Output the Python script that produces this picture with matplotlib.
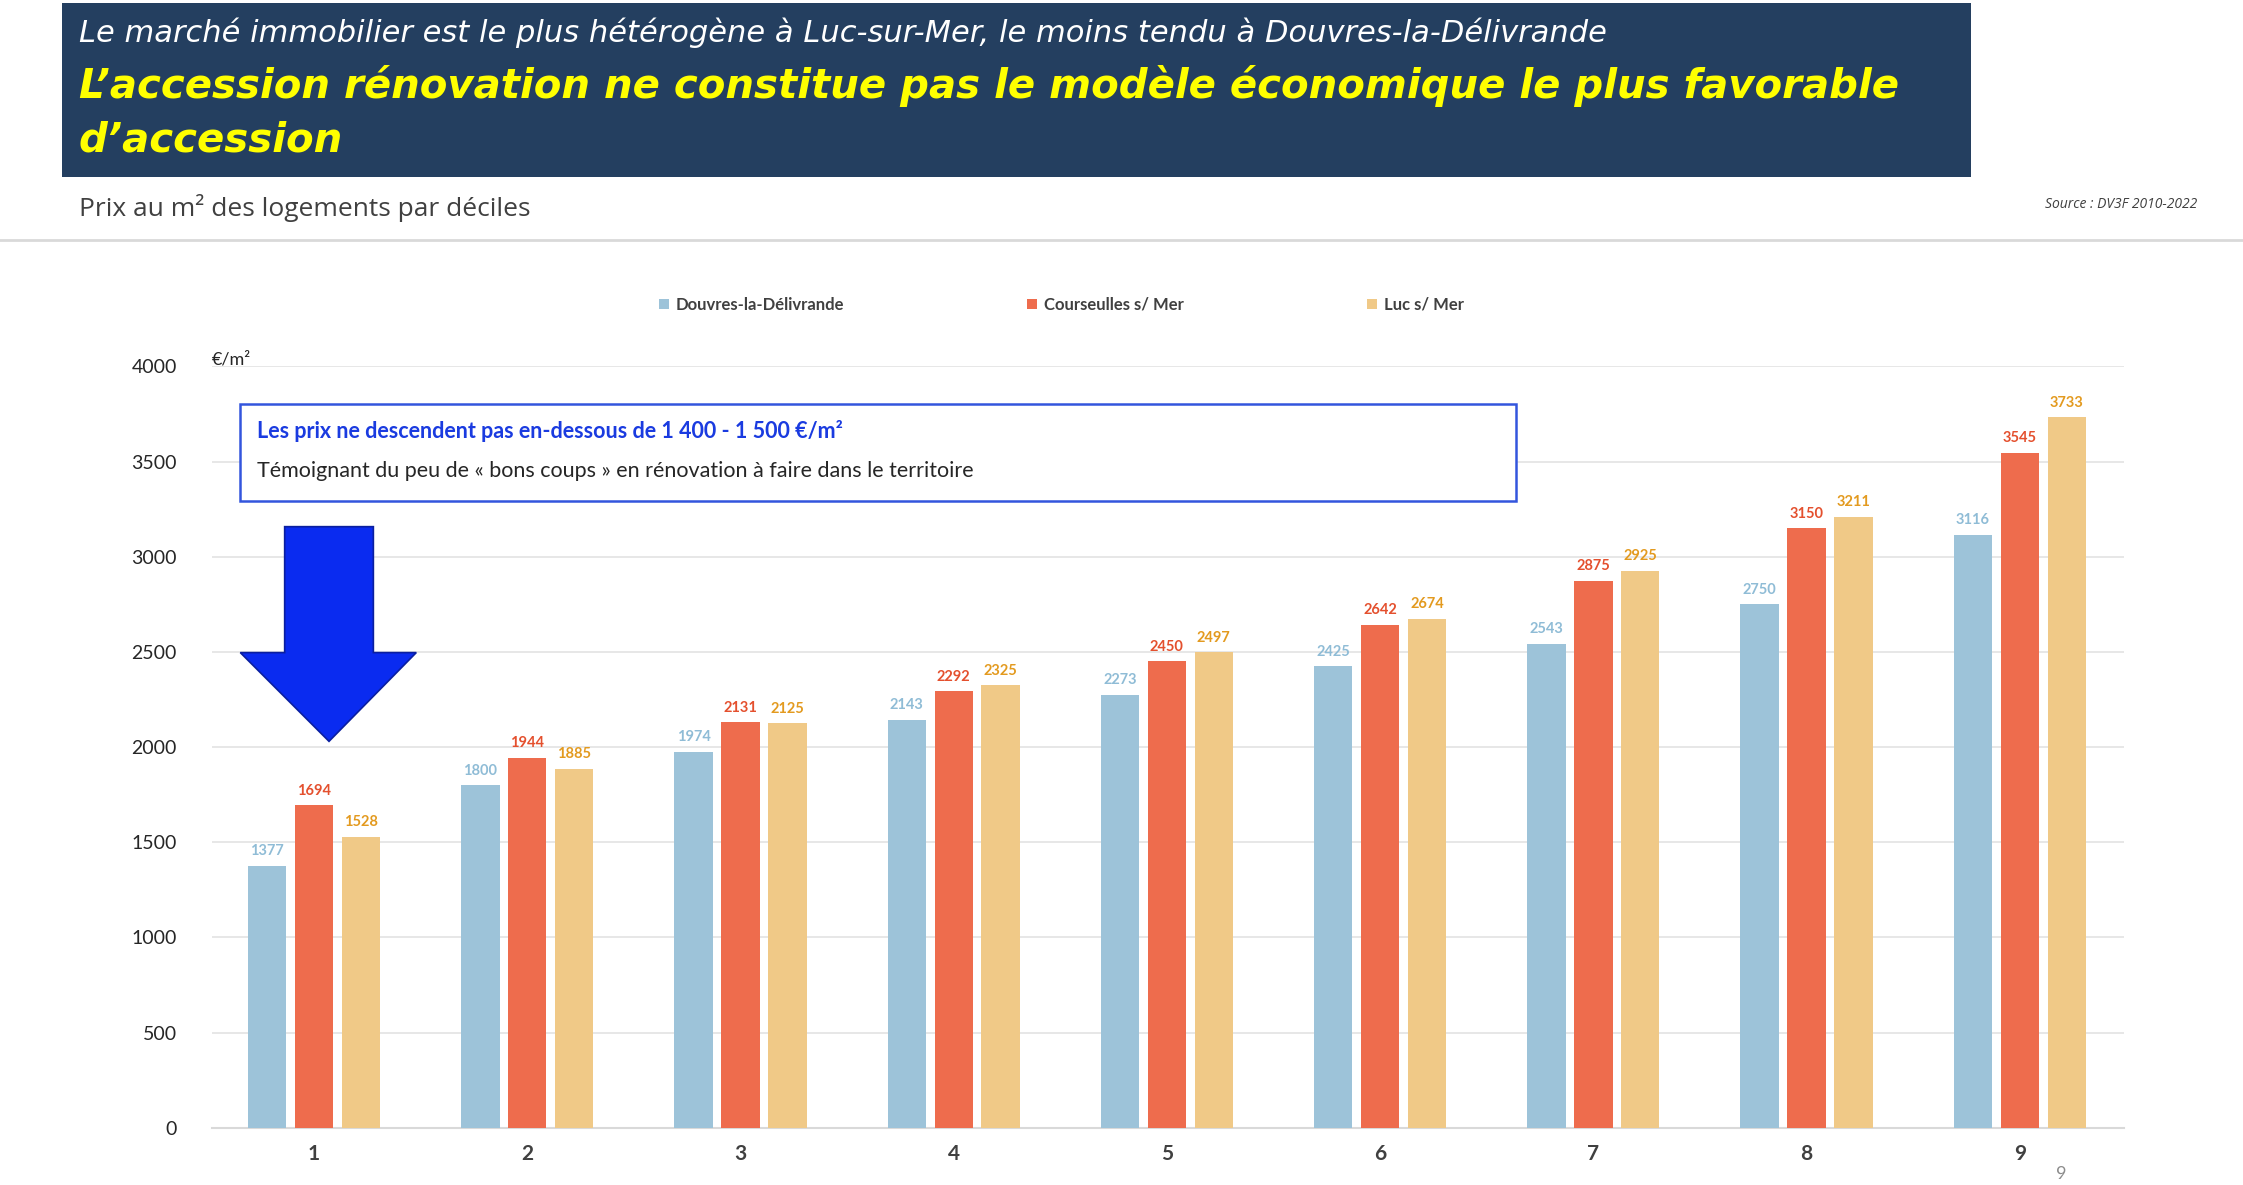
import matplotlib
matplotlib.use("Agg")
import matplotlib.pyplot as plt
import numpy as np
from matplotlib.patches import Rectangle, Polygon

deciles = ["1","2","3","4","5","6","7","8","9"]
douvres = [1377,1800,1974,2143,2273,2425,2543,2750,3116]
courseulles = [1694,1944,2131,2292,2450,2642,2875,3150,3545]
luc = [1528,1885,2125,2325,2497,2674,2925,3211,3733]
series_names = ["Douvres-la-Délivrande","Courseulles s/ Mer","Luc s/ Mer"]
yticks = [0,500,1000,1500,2000,2500,3000,3500,4000]

bar_colors = ["#9DC3D9","#EE6C4D","#F0C987"]
lab_colors = ["#8FBCD6","#E4502E","#E39A1F"]

W,H = 1568,828
def fx(x): return x/W
def fy(y): return 1-y/H

fig = plt.figure(figsize=(22.43,11.85),dpi=100)
fig.patch.set_facecolor("white")

# header
fig.patches.append(Rectangle((fx(43),fy(124)),fx(1378)-fx(43),fy(2)-fy(124),transform=fig.transFigure,facecolor="#243F60",edgecolor="none"))
fig.text(fx(55),fy(23),"Le marché immobilier est le plus hétérogène à Luc-sur-Mer, le moins tendu à Douvres-la-Délivrande",
         color="white",fontsize=22,style="italic",fontfamily="DejaVu Sans",va="center")
fig.text(fx(55),fy(60),"L’accession rénovation ne constitue pas le modèle économique le plus favorable",
         color="#FFFF00",fontsize=29,style="italic",weight="bold",fontfamily="DejaVu Sans",va="center")
fig.text(fx(55),fy(98),"d’accession",
         color="#FFFF00",fontsize=29,style="italic",weight="bold",fontfamily="DejaVu Sans",va="center")
fig.text(fx(55),fy(145),"Prix au m² des logements par déciles",color="#404040",fontsize=19,fontfamily="Open Sans",va="center")
fig.text(fx(1536),fy(143),"Source : DV3F 2010-2022",color="#404040",fontsize=10,style="italic",fontfamily="Open Sans",va="center",ha="right")
fig.lines.append(plt.Line2D([0,1],[fy(168),fy(168)],transform=fig.transFigure,color="#D9D9D9",lw=2))

ax = fig.add_axes([fx(148),fy(788),fx(1485)-fx(148),fy(256)-fy(788)])
x = np.arange(1,len(deciles)+1)
bw,off = 0.18,0.22
for i,(vals,name) in enumerate(zip([douvres,courseulles,luc],series_names)):
    pos = x+(i-1)*off
    ax.bar(pos,vals,bw,color=bar_colors[i],label=name,zorder=3)
    for p,v in zip(pos,vals):
        ax.text(p,v+40,str(v),ha="center",va="bottom",fontsize=10.5,weight="bold",color=lab_colors[i],fontfamily="Lato")
ax.set_xlim(0.52,9.49)
ax.set_ylim(0,4000)
ax.set_yticks(yticks)
ax.set_yticklabels([str(t) for t in yticks],fontsize=14,fontfamily="Lato",color="#262626")
ax.set_xticks(x)
ax.set_xticklabels(deciles,fontsize=15,weight="bold",fontfamily="Lato",color="#404040")
ax.tick_params(length=0,pad=12)
ax.tick_params(axis="y",pad=25)
ax.grid(axis="y",color="#E3E3E3",lw=1.2,zorder=0)
for s in ["top","right","left"]:
    ax.spines[s].set_visible(False)
ax.spines["bottom"].set_color("#D9D9D9")
ax.spines["bottom"].set_linewidth(1.5)

leg = fig.legend(loc="center",bbox_to_anchor=(fx(742),fy(213)),ncol=3,frameon=False,
                 prop={"family":"Lato","weight":"bold","size":12},columnspacing=11,handlelength=0.6,handleheight=0.6,handletextpad=0.4)
for t in leg.get_texts(): t.set_color("#404040")

fig.text(fx(148),fy(251),"€/m²",fontsize=13,fontfamily="Lato",color="#262626",va="center")

# annotation box
fig.patches.append(Rectangle((fx(168),fy(350)),fx(1060)-fx(168),fy(282)-fy(350),transform=fig.transFigure,
                             facecolor="white",edgecolor="#3355DD",lw=1.8,zorder=5))
fig.text(fx(180),fy(301),"Les prix ne descendent pas en-dessous de 1 400 - 1 500 €/m²",color="#1A3BE0",
         fontsize=15.5,weight="bold",fontfamily="Lato",va="center",zorder=6)
fig.text(fx(180),fy(329),"Témoignant du peu de « bons coups » en rénovation à faire dans le territoire",color="#262626",
         fontsize=15.5,fontfamily="Lato",va="center",zorder=6)

# arrow
pts = [(199,368),(261,368),(261,456),(291,456),(230,518),(168,456),(199,456)]
fig.patches.append(Polygon([(fx(a),fy(b)) for a,b in pts],closed=True,transform=fig.transFigure,
                           facecolor="#0A2BF0",edgecolor="#0A1FA0",lw=1.2,zorder=6))

fig.text(fx(1441),fy(820),"9",fontsize=13,color="#8C8C8C",fontfamily="Lato",ha="center",va="center")

fig.savefig("out.png",dpi=100)
